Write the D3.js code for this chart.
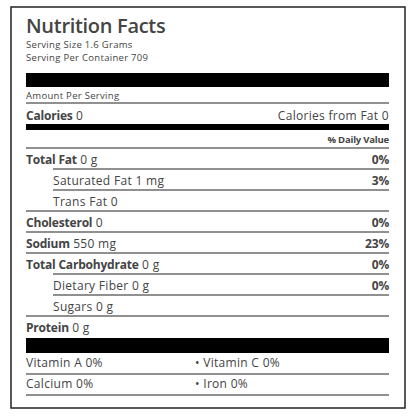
<!DOCTYPE html>
<html>
<head>
  <script src="https://d3js.org/d3.v7.min.js"></script>
  <style>
    body { margin: 0; background: #fff; }
    text { font-family: "Open Sans", sans-serif; fill: #444; letter-spacing: 0.3px; }
    .bold { font-weight: 700; letter-spacing: -0.2px; }
  </style>
</head>
<body>
  <div id="chart"></div>
  <script>
    const title = "Nutrition Facts";
    const servingInfo = ["Serving Size 1.6 Grams", "Serving Per Container 709"];
    const nutrients = ["Total Fat", "Saturated Fat", "Trans Fat", "Cholesterol", "Sodium",
      "Total Carbohydrate", "Dietary Fiber", "Sugars", "Protein"];
    const amounts = ["0 g", "1 mg", "0", "0", "550 mg", "0 g", "0 g", "0 g", "0 g"];
    const dailyValues = ["0%", "3%", "", "0%", "23%", "0%", "0%", "", ""];
    const isSub = [false, true, true, false, false, false, true, true, false];
    const vitamins = [["Vitamin A 0%", "Vitamin C 0%"], ["Calcium 0%", "Iron 0%"]];

    const W = 416, H = 416, L = 26, R = 389;
    const svg = d3.select("#chart").append("svg").attr("width", W).attr("height", H);

    svg.append("rect").attr("x", 11).attr("y", 7).attr("width", 394).attr("height", 401)
      .attr("fill", "none").attr("stroke", "#222").attr("stroke-width", 1.5);

    svg.append("text").attr("x", L).attr("y", 33).attr("font-size", 20).attr("font-weight", 600)
      .style("letter-spacing", "-0.3px").text(title);
    svg.selectAll(".serv").data(servingInfo).join("text").attr("class", "serv")
      .attr("x", L).attr("y", (d, i) => 48 + i * 13).attr("font-size", 9.5).text(d => d);

    const bar = (y, h) => svg.append("rect").attr("x", L).attr("y", y).attr("width", R - L).attr("height", h).attr("fill", "#000");
    const line = (x, y) => svg.append("line").attr("x1", x).attr("x2", R).attr("y1", y).attr("y2", y)
      .attr("stroke", "#222").attr("stroke-width", 1.2);

    bar(73, 14);
    svg.append("text").attr("x", L).attr("y", 99).attr("font-size", 9.5).text("Amount Per Serving");
    line(L, 103);
    svg.append("text").attr("x", L).attr("y", 120).attr("font-size", 12)
      .call(t => { t.append("tspan").attr("class", "bold").text("Calories"); t.append("tspan").text(" 0"); });
    svg.append("text").attr("x", R).attr("y", 120).attr("font-size", 12).attr("text-anchor", "end").text("Calories from Fat 0");
    bar(124, 6);
    svg.append("text").attr("x", R).attr("y", 143).attr("font-size", 9.5).attr("class", "bold")
      .attr("text-anchor", "end").text("% Daily Value");
    line(L, 148);

    const y = d3.scaleBand().domain(d3.range(nutrients.length)).range([148, 337]);
    const rows = svg.selectAll(".row").data(nutrients).join("g").attr("class", "row")
      .attr("transform", (d, i) => `translate(0,${y(i)})`);
    rows.append("text").attr("x", (d, i) => isSub[i] ? 53 : L).attr("y", 16).attr("font-size", 12)
      .each(function (d, i) {
        const t = d3.select(this);
        t.append("tspan").attr("class", isSub[i] ? null : "bold").text(d);
        t.append("tspan").text(" " + amounts[i]);
      });
    rows.append("text").attr("x", R).attr("y", 16).attr("font-size", 12).attr("class", "bold")
      .attr("text-anchor", "end").text((d, i) => dailyValues[i]);
    rows.filter((d, i) => i < nutrients.length - 1).append("line")
      .attr("x1", (d, i) => isSub[i + 1] ? 53 : L).attr("x2", R)
      .attr("y1", y.bandwidth()).attr("y2", y.bandwidth())
      .attr("stroke", "#222").attr("stroke-width", 1.2);

    bar(338, 15);
    const vy = d3.scaleBand().domain([0, 1]).range([353, 395]);
    vitamins.forEach((pair, i) => {
      svg.append("text").attr("x", L).attr("y", vy(i) + 14).attr("font-size", 12).text(pair[0]);
      svg.append("text").attr("x", 195).attr("y", vy(i) + 14).attr("font-size", 12).text("\u2022  " + pair[1]);
      line(L, vy(i) + vy.bandwidth());
    });
  </script>
</body>
</html>
